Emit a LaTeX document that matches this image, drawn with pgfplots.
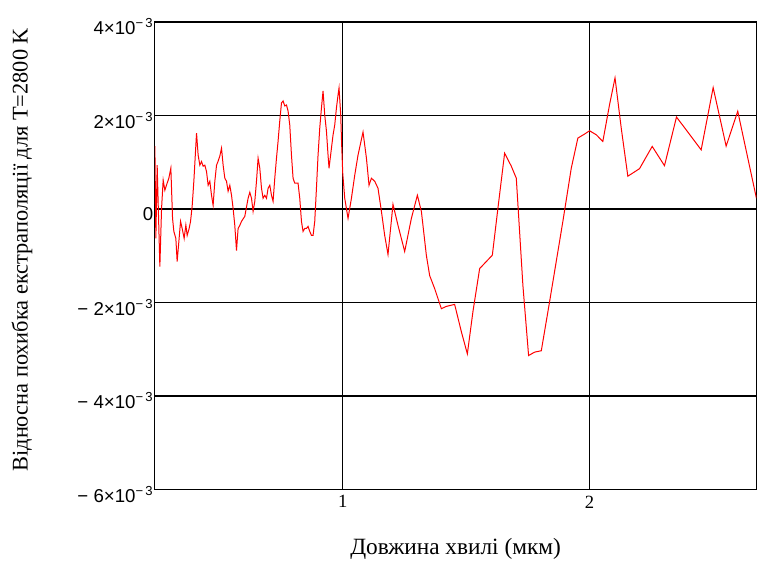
\documentclass[border=0pt]{standalone}
\usepackage{fontspec}
\setmainfont{Liberation Serif}
\newfontfamily\tickfont{Liberation Sans}
\usepackage{pgfplots}
\pgfplotsset{compat=1.18}
\begin{document}
\begin{tikzpicture}
\begin{axis}[
  scale only axis,
  width=451.5pt, height=351pt,
  xmin=0.2389, xmax=2.676,
  ymin=-6, ymax=4,
  xtick={1,2}, xticklabels={1,2},
  ytick={-6,-4,-2,0,2,4},
  yticklabels={{− 6×10\textsuperscript{−\,3}},{− 4×10\textsuperscript{−\,3}},{− 2×10\textsuperscript{−\,3}},{0},{2×10\textsuperscript{−\,3}},{4×10\textsuperscript{−\,3}}},
  yticklabel style={font=\tickfont\fontsize{14}{16}\selectfont, anchor=east, yshift=-3.5pt, inner sep=1pt},
  xticklabel style={font=\fontsize{14}{16}\selectfont, yshift=-1pt},
  major tick length=0pt,
  grid=major,
  major grid style={black, line width=0.9pt},
  axis line style={black, line width=0.9pt},
  xlabel={Довжина хвилі (мкм)},
  ylabel={Відносна похибка екстраполяції для T=2800 K},
  xlabel style={font=\fontsize{17.5}{19}\selectfont, at={(axis description cs:0.5,-0.1389)}, anchor=base},
  ylabel style={font=\fontsize{16.8}{18}\selectfont, at={(axis description cs:-0.2209,0.513)}, anchor=center},
]
\addplot[red, line width=0.75pt] coordinates {
(0.2389,1.345) (0.2429,-0.629) (0.2482,0.938) (0.2591,-1.230) (0.2660,0.015) (0.2725,0.616)
(0.2794,0.401) (0.2862,0.515) (0.2955,0.659) (0.3036,0.873) (0.3105,-0.200) (0.3158,-0.479)
(0.3239,-0.629) (0.3291,-1.122) (0.3360,-0.70) (0.3429,-0.264) (0.3494,-0.414) (0.3575,-0.629)
(0.3644,-0.343) (0.3697,-0.564) (0.3778,-0.414) (0.3834,-0.264) (0.3899,0.058) (0.3968,0.594)
(0.4036,1.238) (0.4077,1.625) (0.4142,1.152) (0.4211,0.938) (0.4279,1.017) (0.4344,0.916)
(0.4413,0.938) (0.4482,0.80) (0.4547,0.509) (0.4615,0.594) (0.4684,0.294) (0.4749,0.079)
(0.4818,0.594) (0.4887,0.938) (0.4951,1.023) (0.5020,1.131) (0.5089,1.302) (0.5154,0.938)
(0.5223,0.659) (0.5291,0.594) (0.5356,0.380) (0.5425,0.509) (0.5494,0.294) (0.5558,0.015)
(0.5627,-0.350) (0.5696,-0.886) (0.5761,-0.414) (0.5830,-0.350) (0.5898,-0.264) (0.6032,-0.157)
(0.6166,0.230) (0.6235,0.358) (0.6304,0.230) (0.6368,-0.049) (0.6437,0.165) (0.6506,0.594)
(0.6571,1.088) (0.6640,0.873) (0.6709,0.444) (0.6773,0.230) (0.6842,0.294) (0.6911,0.230)
(0.6976,0.444) (0.7045,0.509) (0.7113,0.294) (0.7178,0.165) (0.7247,0.659) (0.7316,1.088)
(0.7381,1.453) (0.7449,1.882) (0.7518,2.268) (0.7583,2.311) (0.7652,2.204) (0.7721,2.225)
(0.7785,2.097) (0.7854,1.796) (0.7923,1.152) (0.7988,0.659) (0.8057,0.552) (0.8190,0.552)
(0.8259,0.230) (0.8328,-0.264) (0.8393,-0.479) (0.8462,-0.414) (0.8530,-0.414) (0.8595,-0.371)
(0.8664,-0.479) (0.8733,-0.564) (0.8798,-0.564) (0.8866,-0.264) (0.8935,0.444) (0.9000,1.152)
(0.9069,1.732) (0.9138,2.161) (0.9202,2.526) (0.9271,2.011) (0.9340,1.667) (0.9405,1.152)
(0.9445,0.873) (0.9543,1.302) (0.9607,1.582) (0.9676,1.796) (0.9745,2.161) (0.9810,2.440)
(0.9850,2.590) (0.9919,2.011) (0.9947,1.517) (1.0000,0.766) (1.0081,0.230) (1.0215,-0.200)
(1.0352,0.230) (1.0486,0.723) (1.0619,1.152) (1.0822,1.646) (1.0960,1.088) (1.1065,0.509)
(1.1162,0.659) (1.1296,0.594) (1.1429,0.444) (1.1567,-0.049) (1.1700,-0.564) (1.1834,-0.972)
(1.2036,0.101) (1.2239,-0.350) (1.2510,-0.908) (1.2781,-0.200) (1.3024,0.294) (1.3186,-0.049)
(1.3389,-0.994) (1.3522,-1.423) (1.3725,-1.702) (1.3996,-2.131) (1.4198,-2.082) (1.4534,-2.039)
(1.4806,-2.624) (1.5049,-3.097) (1.5275,-2.195) (1.5547,-1.273) (1.5818,-1.122) (1.6061,-0.987)
(1.6287,0.015) (1.6559,1.195) (1.6830,0.916) (1.7032,0.659) (1.7300,-1.637) (1.7530,-3.133)
(1.7773,-3.06) (1.8045,-3.03) (1.8381,-1.981) (1.8919,-0.264) (1.9259,0.873) (1.9526,1.517)
(1.9798,1.603) (2.0000,1.674) (2.0271,1.588) (2.0538,1.446) (2.0810,2.232) (2.1032,2.805)
(2.1283,1.732) (2.1551,0.702) (2.2024,0.863) (2.2538,1.339) (2.3036,0.927) (2.3522,1.968)
(2.4522,1.266) (2.5008,2.597) (2.5534,1.345) (2.6004,2.090) (2.6761,0.230)
};
\coordinate (bl) at (rel axis cs:0,0);
\coordinate (tr) at (rel axis cs:1,1);
\end{axis}
\path ([xshift=-116.25pt,yshift=-52.5pt]bl) rectangle ([yshift=16.5pt]tr);
\end{tikzpicture}
\end{document}
